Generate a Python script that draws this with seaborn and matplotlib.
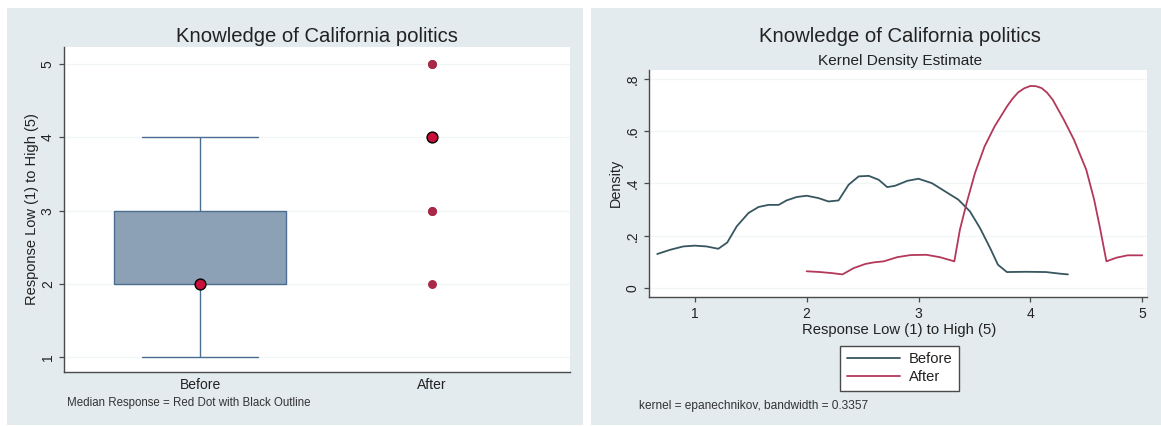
import numpy as np
import pandas as pd
import matplotlib
matplotlib.use("Agg")
import matplotlib.pyplot as plt
from matplotlib.patches import Rectangle
import seaborn as sns

# ---- data -----------------------------------------------------------------
phases = ["Before", "After"]
levels = [1, 2, 3, 4, 5]
before_counts = [3, 8, 6, 3, 0]
after_counts = [0, 1, 2, 12, 2]

before_x = [0.664, 0.778, 0.897, 1.0, 1.105, 1.21, 1.29, 1.375, 1.48, 1.57,
            1.66, 1.75, 1.82, 1.91, 2.0, 2.105, 2.195, 2.285, 2.375, 2.465,
            2.555, 2.644, 2.72, 2.79, 2.90, 3.0, 3.12, 3.24, 3.356, 3.46,
            3.55, 3.64, 3.71, 3.79, 3.965, 4.14, 4.26, 4.336]
before_density = [0.130, 0.146, 0.159, 0.162, 0.159, 0.150, 0.174, 0.236, 0.287, 0.310,
                  0.318, 0.318, 0.335, 0.348, 0.353, 0.344, 0.331, 0.335, 0.395, 0.427,
                  0.429, 0.414, 0.386, 0.391, 0.410, 0.418, 0.401, 0.369, 0.338, 0.293,
                  0.229, 0.153, 0.089, 0.061, 0.062, 0.061, 0.055, 0.052]
after_x = [2.0, 2.12, 2.225, 2.32, 2.42, 2.525, 2.60, 2.69, 2.81, 2.93,
           3.07, 3.19, 3.32, 3.37, 3.43, 3.505, 3.59, 3.68, 3.79, 3.84,
           3.89, 3.945, 4.0, 4.05, 4.10, 4.15, 4.20, 4.30, 4.39, 4.50,
           4.57, 4.62, 4.68, 4.77, 4.87, 5.0]
after_density = [0.064, 0.061, 0.057, 0.052, 0.076, 0.092, 0.098, 0.102, 0.118, 0.126,
                 0.127, 0.118, 0.102, 0.223, 0.325, 0.440, 0.541, 0.618, 0.694, 0.724,
                 0.748, 0.764, 0.773, 0.772, 0.765, 0.747, 0.720, 0.643, 0.567, 0.452,
                 0.338, 0.235, 0.102, 0.116, 0.125, 0.125]

density_ticks = [0, 0.2, 0.4, 0.6, 0.8]
density_tick_labels = ["0", ".2", ".4", ".6", ".8"]

title = "Knowledge of California politics"
subtitle = "Kernel Density Estimate"
response_label = "Response Low (1) to High (5)"
box_note = "Median Response = Red Dot with Black Outline"
kde_note = "kernel = epanechnikov, bandwidth = 0.3357"

# ---- style ----------------------------------------------------------------
sns.set_theme(style="white")
plt.rcParams["font.family"] = ["Liberation Sans", "DejaVu Sans"]

W, H = 1161, 426
fig = plt.figure(figsize=(W / 100, H / 100), dpi=100)
fig.patch.set_facecolor("white")


def fx(px):
    return px / W


def fy(py):
    return 1 - py / H


panel_bg = "#e3ebee"
for x0, x1 in [(7, 583), (591, 1161)]:
    fig.add_artist(Rectangle((fx(x0), fy(425)), fx(x1) - fx(x0), fy(8) - fy(425),
                             transform=fig.transFigure, facecolor=panel_bg,
                             edgecolor="none", zorder=-1))


def add_axes(l, t, r, b):
    return fig.add_axes([fx(l), fy(b), fx(r) - fx(l), fy(t) - fy(b)])


ax1 = add_axes(64, 47, 570, 371.7)
ax2 = add_axes(648.5, 70, 1146.7, 297.3)

axis_color = "#4a4a4a"
text_color = "#222222"
grid_color = "#f2f5f6"
for ax in (ax1, ax2):
    ax.set_facecolor("white")
    for s in ("top", "right"):
        ax.spines[s].set_visible(False)
    for s in ("left", "bottom"):
        ax.spines[s].set_color(axis_color)
        ax.spines[s].set_linewidth(1.0)
    ax.yaxis.grid(True, color=grid_color, linewidth=1.0)
    ax.set_axisbelow(True)
    ax.tick_params(colors=axis_color, labelcolor=text_color, labelsize=10,
                   length=3.6, width=0.9, left=True, bottom=True)

# ---- left: box plot ---------------------------------------------------------
rows = []
for phase, counts in zip(phases, [before_counts, after_counts]):
    for lvl, c in zip(levels, counts):
        rows += [(phase, lvl)] * c
df = pd.DataFrame(rows, columns=["phase", "response"])

box_face = "#8da1b6"
box_edge = "#4b6e90"
median_red = "#c8103a"
flier_red = "#a82848"
flier_kw = dict(marker="o", markerfacecolor=flier_red, markeredgecolor=flier_red,
                markersize=5.4)

sns.boxplot(data=df[df.phase == "Before"], x="phase", y="response", order=phases,
            width=0.747, capwidths=0.5, color=box_face, linecolor=box_edge,
            linewidth=1.0, saturation=1, medianprops={"visible": False},
            flierprops=flier_kw, ax=ax1)
sns.boxplot(data=df[df.phase == "After"], x="phase", y="response", order=phases,
            width=0.747, showbox=False, showcaps=False, color=box_face,
            linecolor=box_edge, saturation=1,
            whiskerprops={"visible": False}, medianprops={"visible": False},
            flierprops=flier_kw, ax=ax1)

medians = (df.groupby("phase")["response"].median()
           .reindex(phases).rename_axis("phase").reset_index())
sns.stripplot(data=medians, x="phase", y="response", order=phases, jitter=False,
              size=7.8, color=median_red, edgecolor="black", linewidth=1.0,
              zorder=6, ax=ax1)

ax1.set_xlim(-0.5875, 1.598)
ax1.set_ylim(0.804, 5.232)
ax1.set_yticks(levels)
ax1.set_yticklabels([str(v) for v in levels])
ax1.tick_params(axis="y", labelrotation=90, pad=3)
plt.setp(ax1.get_yticklabels(), va="center")
ax1.tick_params(axis="x", length=0, pad=4.5)
ax1.set_xlabel("")
ax1.set_ylabel(response_label, fontsize=10.5, color=text_color, va="center")
ax1.yaxis.set_label_coords((31.6 - 64) / 506, 0.5)
ax1.set_title(title, fontsize=14.6, color=text_color, y=(371.7 - 37) / 324.7,
              va="center", pad=0)
fig.text(fx(66.7), fy(403), box_note, fontsize=8.3, color="#333333",
         ha="left", va="center")

# ---- right: kernel density ----------------------------------------------------
kde = pd.concat([
    pd.DataFrame({"phase": "Before", "response": before_x, "density": before_density}),
    pd.DataFrame({"phase": "After", "response": after_x, "density": after_density}),
], ignore_index=True)

before_color = "#37565f"
after_color = "#b3385a"
sns.lineplot(data=kde, x="response", y="density", hue="phase", hue_order=phases,
             palette=[before_color, after_color], sort=False, estimator=None,
             linewidth=1.3, ax=ax2)

ax2.set_xlim(0.586, 5.04)
ax2.set_ylim(-0.0356, 0.834)
ax2.set_xticks(levels)
ax2.set_xticklabels([str(v) for v in levels])
ax2.set_yticks(density_ticks)
ax2.set_yticklabels(density_tick_labels)
ax2.tick_params(axis="y", labelrotation=90, pad=3)
plt.setp(ax2.get_yticklabels(), va="center")
ax2.tick_params(axis="x", pad=3.4)
ax2.set_xlabel(response_label, fontsize=10.7, color=text_color, va="center")
ax2.xaxis.set_label_coords((899.4 - 648.5) / 498.2, -0.144)
ax2.set_ylabel("Density", fontsize=10.4, color=text_color, va="center")
ax2.yaxis.set_label_coords(-0.065, 0.503)
ax2.set_title(title, fontsize=14.6, color=text_color, x=0.505,
              y=(297.3 - 37) / 227.3, va="center", pad=0)
ax2.text(0.505, (297.3 - 61) / 227.3, subtitle, transform=ax2.transAxes,
         fontsize=11.1, color=text_color, ha="center", va="center")

sns.move_legend(ax2, loc="upper left", bbox_to_anchor=(fx(840), fy(345.7)),
                bbox_transform=fig.transFigure, title=None, frameon=True,
                fancybox=False, framealpha=1, facecolor="white",
                edgecolor="#4a4a4a", fontsize=10.6, handlelength=3.6,
                handletextpad=0.63, borderpad=0.45, labelspacing=0.25,
                borderaxespad=0)
leg = ax2.get_legend()
leg.get_frame().set_linewidth(1.0)
for t in leg.get_texts():
    t.set_color(text_color)

fig.text(fx(639), fy(406), kde_note, fontsize=8.6, color="#333333",
         ha="left", va="center")

fig.savefig("out.png", dpi=100, facecolor=fig.get_facecolor())
